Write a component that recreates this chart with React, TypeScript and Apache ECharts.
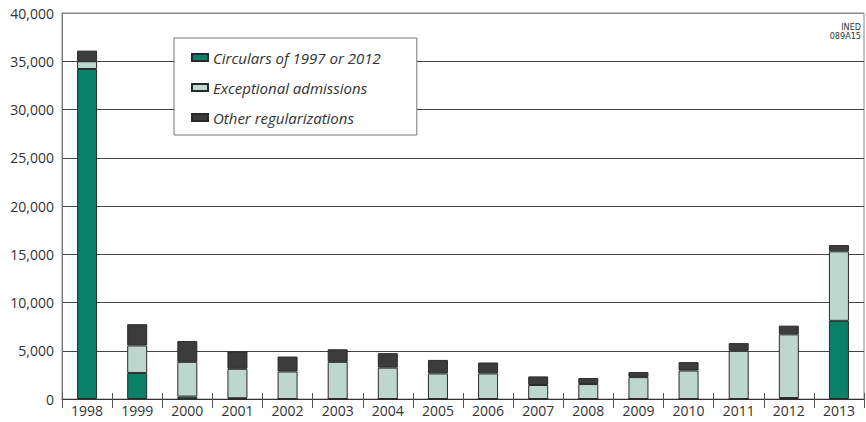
import React, { useEffect, useRef } from "react";
import * as echarts from "echarts";

const years = ["1998","1999","2000","2001","2002","2003","2004","2005","2006","2007","2008","2009","2010","2011","2012","2013"];
const circulars = [34200, 2700, 250, 80, 0, 0, 0, 0, 0, 0, 0, 0, 0, 0, 100, 8100];
const exceptional = [800, 2850, 3600, 3050, 2850, 3850, 3250, 2650, 2650, 1450, 1550, 2270, 2950, 4990, 6600, 7200];
const other = [1100, 2200, 2150, 1800, 1550, 1300, 1500, 1400, 1130, 890, 620, 520, 870, 800, 900, 650];
const seriesNames = ["Circulars of 1997 or 2012", "Exceptional admissions", "Other regularizations"];
const seriesColors = ["#0A8068", "#BDD7CF", "#3C3C3C"];
const sourceLines = ["INED", "089A15"];

export default function App() {
  const ref = useRef<HTMLDivElement>(null);
  useEffect(() => {
    if (!ref.current) return;
    const chart = echarts.init(ref.current, null, { renderer: "svg" });
    const font = "'Open Sans', 'Noto Sans', sans-serif";
    const dataSets = [circulars, exceptional, other];
    const gridColors = ["#444", "#444", "#444", "#444", "#444", "#444", "#444", "#444", "#888"];
    chart.setOption({
      animation: false,
      backgroundColor: "#fff",
      grid: { left: 62, right: 2, top: 13, bottom: 23, containLabel: false, show: true, borderColor: "#888", borderWidth: 1 },
      legend: {
        orient: "vertical",
        left: 174,
        top: 38,
        backgroundColor: "#fff",
        borderColor: "#777",
        borderWidth: 1,
        padding: [12, 36, 10, 17],
        itemGap: 15,
        itemWidth: 16,
        itemHeight: 7,
        icon: "rect",
        textStyle: { fontFamily: font, fontSize: 15, fontStyle: "italic", color: "#333", lineHeight: 15 },
        data: seriesNames,
      },
      xAxis: [
        {
          type: "category",
          data: years,
          position: "bottom",
          axisLine: { show: true, lineStyle: { color: "#333", width: 1 } },
          axisTick: { show: true, length: 9, lineStyle: { color: "#555" } },
          axisLabel: { fontFamily: font, fontSize: 14, color: "#333", margin: 4 },
          splitLine: { show: false },
        },
        {
          type: "category",
          data: years,
          position: "bottom",
          axisLine: { show: false },
          axisTick: { show: true, inside: true, length: 6, lineStyle: { color: "#555" } },
          axisLabel: { show: false },
          splitLine: { show: false },
        },
      ],
      yAxis: {
        type: "value",
        min: 0,
        max: 40000,
        interval: 5000,
        axisLine: { show: true, lineStyle: { color: "#777" } },
        axisTick: { show: false },
        axisLabel: {
          fontFamily: font,
          fontSize: 14,
          color: "#333",
          margin: 8,
          formatter: (v: number) => v.toLocaleString("en-US"),
        },
        splitLine: { show: true, lineStyle: { color: gridColors, width: 1 } },
      },
      series: seriesNames.map((name, i) => ({
        name,
        type: "bar",
        stack: "total",
        data: dataSets[i],
        barWidth: 20,
        itemStyle: { color: seriesColors[i], borderColor: "#2a2a2a", borderWidth: 1 },
        z: 3,
      })),
      graphic: [
        {
          type: "text",
          right: 5,
          top: 22,
          style: {
            text: sourceLines.join("\n"),
            fontFamily: "'DejaVu Sans Condensed', 'Liberation Sans Narrow', sans-serif",
            fontSize: 9,
            lineHeight: 9,
            fill: "#333",
            textAlign: "right",
          },
        },
      ],
    });
    return () => chart.dispose();
  }, []);
  return <div ref={ref} style={{ position: "absolute", left: 0, top: 0, width: 866, height: 422 }} />;
}
